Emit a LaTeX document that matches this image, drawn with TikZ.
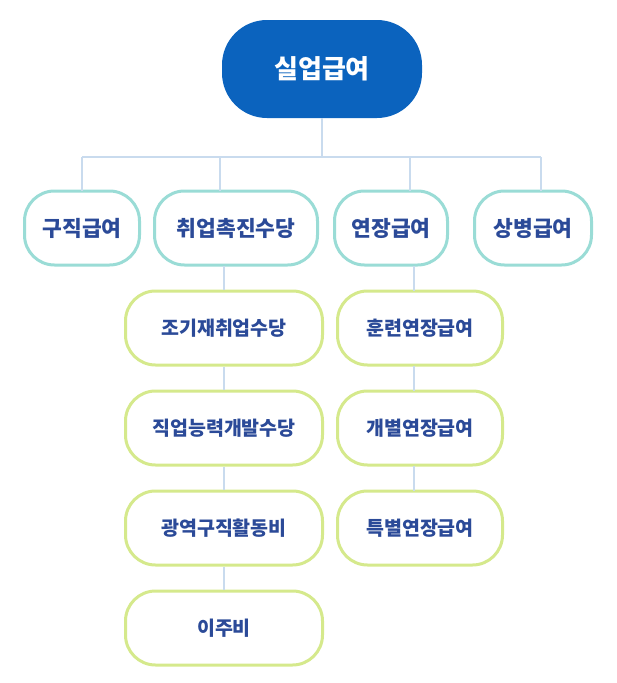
\documentclass[tikz,border=0pt]{standalone}
\usepackage{fontspec}
\setmainfont{Noto Sans CJK KR}
\definecolor{rootc}{HTML}{0B63BE}
\definecolor{tealc}{HTML}{9ADCD6}
\definecolor{greenc}{HTML}{D5E98C}
\definecolor{linec}{HTML}{C9DBEE}
\definecolor{txtc}{HTML}{2B4A98}
\begin{document}
\begin{tikzpicture}[x=1pt,y=-1pt,
 rootbox/.style={rectangle, rounded corners=45pt, fill=rootc, text=white, minimum width=200pt, minimum height=98pt, font=\fontsize{26}{30}\selectfont\bfseries, inner sep=0pt},
 lvone/.style={draw=tealc, line width=3pt, fill=white, text=txtc, rounded corners=30pt, minimum height=74pt, font=\fontsize{21.5}{25}\selectfont\bfseries, inner sep=0pt},
 lvtwo/.style={draw=greenc, line width=3pt, fill=white, text=txtc, rounded corners=30pt, minimum height=74pt, font=\fontsize{19.5}{23}\selectfont\bfseries, inner sep=0pt},
 conn/.style={draw=linec, line width=1.5pt}]
\useasboundingbox (0,0) rectangle (617,683);
\node[rootbox] (root) at (322,69) {실업급여};
\coordinate (hub) at (322,157);
\coordinate (h1) at (82,157);
\coordinate (h2) at (220,157);
\coordinate (h3) at (410,157);
\coordinate (h4) at (541,157);
\draw[conn] (root.south) -- (hub);
\draw[conn] (h1) -- (h4);
\node[lvone, minimum width=115pt] (a) at (82,228) {구직급여};
\node[lvone, minimum width=163pt] (b) at (236,228) {취업촉진수당};
\node[lvone, minimum width=113pt] (c) at (391,228) {연장급여};
\node[lvone, minimum width=117pt] (d) at (533,228) {상병급여};
\node[lvtwo, minimum width=197pt] (b1) at (224,328) {조기재취업수당};
\node[lvtwo, minimum width=197pt] (b2) at (224,428) {직업능력개발수당};
\node[lvtwo, minimum width=197pt] (b3) at (224,528) {광역구직활동비};
\node[lvtwo, minimum width=197pt] (b4) at (224,628) {이주비};
\node[lvtwo, minimum width=165pt] (c1) at (420,328) {훈련연장급여};
\node[lvtwo, minimum width=165pt] (c2) at (420,428) {개별연장급여};
\node[lvtwo, minimum width=165pt] (c3) at (420,528) {특별연장급여};
\draw[conn] (h1) -- (82,190.5);
\draw[conn] (h2) -- (220,190.5);
\draw[conn] (h3) -- (410,190.5);
\draw[conn] (h4) -- (541,190.5);
\draw[conn] (224,266) -- (b1.north);
\draw[conn] (b1.south) -- (b2.north);
\draw[conn] (b2.south) -- (b3.north);
\draw[conn] (b3.south) -- (b4.north);
\draw[conn] (414,266) -- (414,290.5);
\draw[conn] (414,366) -- (414,390.5);
\draw[conn] (414,466) -- (414,490.5);
\end{tikzpicture}
\end{document}
